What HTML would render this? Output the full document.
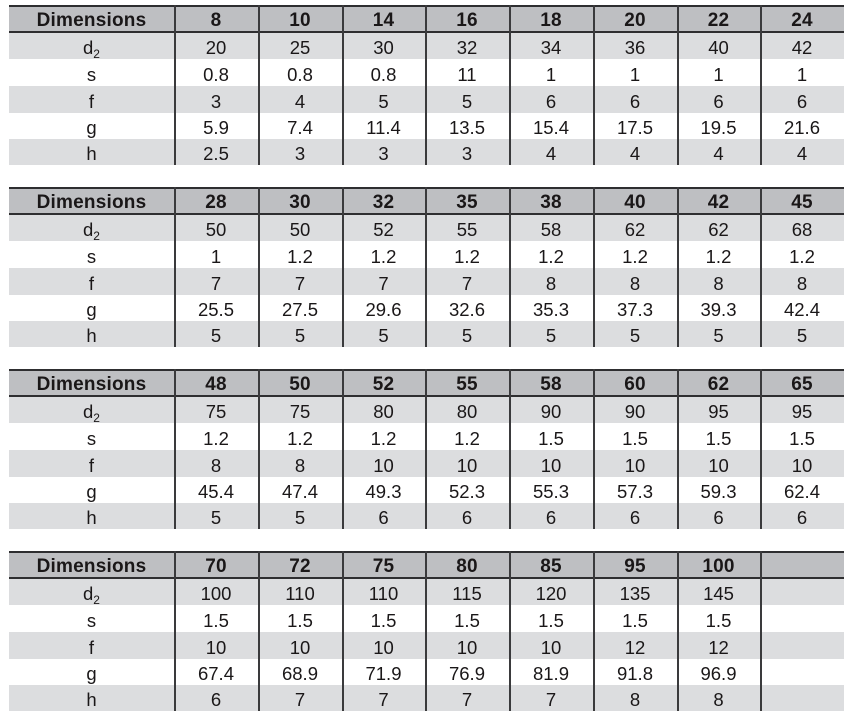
<!DOCTYPE html>
<html>
<head>
<meta charset="utf-8">
<style>
html,body{margin:0;padding:0;background:#fff;}
body{width:853px;height:721px;position:relative;overflow:hidden;font-family:"Liberation Sans",sans-serif;color:#1a1718;}
.blk{position:absolute;left:9px;width:835px;height:160px;}
.tb{position:absolute;left:0;width:835px;height:2px;background:#2e2e30;}
.row{position:absolute;left:0;width:835px;display:grid;grid-template-columns:165px 84px 84px 83px 84px 84px 84px 83px 84px;}
.row div{text-align:center;font-size:18.5px;position:relative;top:2px;}
.hd{top:2px;height:24px;line-height:24px;background:#bebfc2;}
.hd div{font-weight:bold;font-size:19px;letter-spacing:0.2px;}
.g{background:#dcdddf;}
.w{background:#fff;}
.r1{top:28px;height:26px;line-height:26px;}
.r2{top:54px;height:27px;line-height:27px;}
.r3{top:81px;height:27px;line-height:27px;}
.r4{top:108px;height:26px;line-height:26px;}
.r5{top:134px;height:26px;line-height:26px;}
.vl{position:absolute;top:0;height:160px;width:2px;background:#3a3a3c;}
sub{font-size:12px;line-height:0;position:relative;top:1px;vertical-align:-3px;}
</style>
</head>
<body>

<!-- Block 1 -->
<div class="blk" style="top:5px;">
  <div class="tb" style="top:0"></div>
  <div class="row hd"><div>Dimensions</div><div>8</div><div>10</div><div>14</div><div>16</div><div>18</div><div>20</div><div>22</div><div>24</div></div>
  <div class="tb" style="top:26px"></div>
  <div class="row r1 g"><div>d<sub>2</sub></div><div>20</div><div>25</div><div>30</div><div>32</div><div>34</div><div>36</div><div>40</div><div>42</div></div>
  <div class="row r2 w"><div>s</div><div>0.8</div><div>0.8</div><div>0.8</div><div>11</div><div>1</div><div>1</div><div>1</div><div>1</div></div>
  <div class="row r3 g"><div>f</div><div>3</div><div>4</div><div>5</div><div>5</div><div>6</div><div>6</div><div>6</div><div>6</div></div>
  <div class="row r4 w"><div>g</div><div>5.9</div><div>7.4</div><div>11.4</div><div>13.5</div><div>15.4</div><div>17.5</div><div>19.5</div><div>21.6</div></div>
  <div class="row r5 g"><div>h</div><div>2.5</div><div>3</div><div>3</div><div>3</div><div>4</div><div>4</div><div>4</div><div>4</div></div>
  <div class="vl" style="left:165px"></div><div class="vl" style="left:249px"></div><div class="vl" style="left:333px"></div><div class="vl" style="left:416px"></div><div class="vl" style="left:500px"></div><div class="vl" style="left:584px"></div><div class="vl" style="left:668px"></div><div class="vl" style="left:751px"></div>
</div>

<!-- Block 2 -->
<div class="blk" style="top:187px;">
  <div class="tb" style="top:0"></div>
  <div class="row hd"><div>Dimensions</div><div>28</div><div>30</div><div>32</div><div>35</div><div>38</div><div>40</div><div>42</div><div>45</div></div>
  <div class="tb" style="top:26px"></div>
  <div class="row r1 g"><div>d<sub>2</sub></div><div>50</div><div>50</div><div>52</div><div>55</div><div>58</div><div>62</div><div>62</div><div>68</div></div>
  <div class="row r2 w"><div>s</div><div>1</div><div>1.2</div><div>1.2</div><div>1.2</div><div>1.2</div><div>1.2</div><div>1.2</div><div>1.2</div></div>
  <div class="row r3 g"><div>f</div><div>7</div><div>7</div><div>7</div><div>7</div><div>8</div><div>8</div><div>8</div><div>8</div></div>
  <div class="row r4 w"><div>g</div><div>25.5</div><div>27.5</div><div>29.6</div><div>32.6</div><div>35.3</div><div>37.3</div><div>39.3</div><div>42.4</div></div>
  <div class="row r5 g"><div>h</div><div>5</div><div>5</div><div>5</div><div>5</div><div>5</div><div>5</div><div>5</div><div>5</div></div>
  <div class="vl" style="left:165px"></div><div class="vl" style="left:249px"></div><div class="vl" style="left:333px"></div><div class="vl" style="left:416px"></div><div class="vl" style="left:500px"></div><div class="vl" style="left:584px"></div><div class="vl" style="left:668px"></div><div class="vl" style="left:751px"></div>
</div>

<!-- Block 3 -->
<div class="blk" style="top:369px;">
  <div class="tb" style="top:0"></div>
  <div class="row hd"><div>Dimensions</div><div>48</div><div>50</div><div>52</div><div>55</div><div>58</div><div>60</div><div>62</div><div>65</div></div>
  <div class="tb" style="top:26px"></div>
  <div class="row r1 g"><div>d<sub>2</sub></div><div>75</div><div>75</div><div>80</div><div>80</div><div>90</div><div>90</div><div>95</div><div>95</div></div>
  <div class="row r2 w"><div>s</div><div>1.2</div><div>1.2</div><div>1.2</div><div>1.2</div><div>1.5</div><div>1.5</div><div>1.5</div><div>1.5</div></div>
  <div class="row r3 g"><div>f</div><div>8</div><div>8</div><div>10</div><div>10</div><div>10</div><div>10</div><div>10</div><div>10</div></div>
  <div class="row r4 w"><div>g</div><div>45.4</div><div>47.4</div><div>49.3</div><div>52.3</div><div>55.3</div><div>57.3</div><div>59.3</div><div>62.4</div></div>
  <div class="row r5 g"><div>h</div><div>5</div><div>5</div><div>6</div><div>6</div><div>6</div><div>6</div><div>6</div><div>6</div></div>
  <div class="vl" style="left:165px"></div><div class="vl" style="left:249px"></div><div class="vl" style="left:333px"></div><div class="vl" style="left:416px"></div><div class="vl" style="left:500px"></div><div class="vl" style="left:584px"></div><div class="vl" style="left:668px"></div><div class="vl" style="left:751px"></div>
</div>

<!-- Block 4 -->
<div class="blk" style="top:551px;">
  <div class="tb" style="top:0"></div>
  <div class="row hd"><div>Dimensions</div><div>70</div><div>72</div><div>75</div><div>80</div><div>85</div><div>95</div><div>100</div><div></div></div>
  <div class="tb" style="top:26px"></div>
  <div class="row r1 g"><div>d<sub>2</sub></div><div>100</div><div>110</div><div>110</div><div>115</div><div>120</div><div>135</div><div>145</div><div></div></div>
  <div class="row r2 w"><div>s</div><div>1.5</div><div>1.5</div><div>1.5</div><div>1.5</div><div>1.5</div><div>1.5</div><div>1.5</div><div></div></div>
  <div class="row r3 g"><div>f</div><div>10</div><div>10</div><div>10</div><div>10</div><div>10</div><div>12</div><div>12</div><div></div></div>
  <div class="row r4 w"><div>g</div><div>67.4</div><div>68.9</div><div>71.9</div><div>76.9</div><div>81.9</div><div>91.8</div><div>96.9</div><div></div></div>
  <div class="row r5 g"><div>h</div><div>6</div><div>7</div><div>7</div><div>7</div><div>7</div><div>8</div><div>8</div><div></div></div>
  <div class="vl" style="left:165px"></div><div class="vl" style="left:249px"></div><div class="vl" style="left:333px"></div><div class="vl" style="left:416px"></div><div class="vl" style="left:500px"></div><div class="vl" style="left:584px"></div><div class="vl" style="left:668px"></div><div class="vl" style="left:751px"></div>
</div>

</body>
</html>
